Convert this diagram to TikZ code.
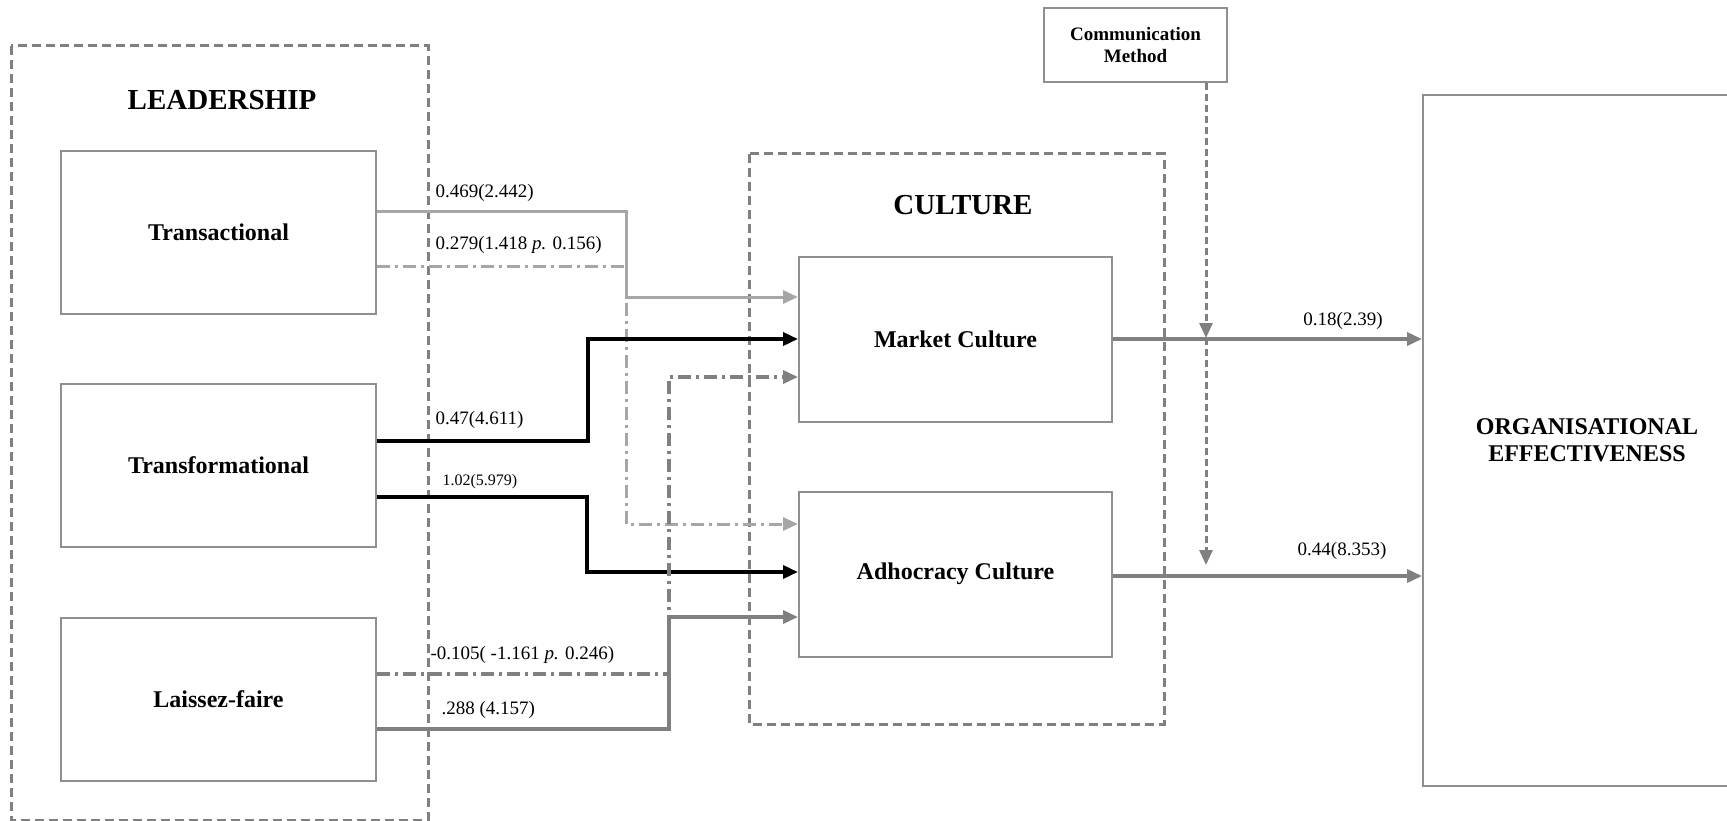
\documentclass[tikz,border=0pt]{standalone}
\usepackage{fontspec}
\setmainfont{Liberation Serif}
\usetikzlibrary{arrows.meta}

\begin{document}
\begin{tikzpicture}[x=1pt,y=-1pt,>={Triangle[length=15pt,width=13pt]},
	box/.style={draw=boxgray,line width=2pt,minimum width=315pt,minimum height=163pt,
		font=\fontsize{24}{27}\selectfont\bfseries},
	frame/.style={draw=dgray,line width=3pt,dash pattern=on 9pt off 5pt},
	title/.style={font=\fontsize{29}{34}\selectfont\bfseries},
	coef/.style={font=\fontsize{19}{22}\selectfont,anchor=west},
	dashdot/.style={dash pattern=on 13pt off 5pt on 3pt off 5pt}]
\definecolor{lgray}{HTML}{A6A6A6}
\definecolor{dgray}{HTML}{808080}
\definecolor{boxgray}{HTML}{8F8F8F}

\useasboundingbox (0,0) rectangle (1727,821);
\clip (0,0) rectangle (1727,821);

% Rahmen
\draw[frame] (11,46) rectangle (428,820);
\draw[frame] (749,154) rectangle (1164,724);
\node[title] (leadT) at (222,100) {LEADERSHIP};
\node[title] (cultT) at (963,205) {CULTURE};

% Kaesten
\node[box] (trans) at (218.5,232.5) {Transactional};
\node[box] (transf) at (218.5,465.5) {Transformational};
\node[box] (laissez) at (218.5,699.5) {Laissez-faire};
\node[box,minimum width=313pt,minimum height=165pt] (market) at (955.5,339.5) {Market Culture};
\node[box,minimum width=313pt,minimum height=165pt] (adhoc) at (955.5,574) {Adhocracy Culture};
\node[box,minimum width=183pt,minimum height=74pt,align=center,
	font=\fontsize{19}{22}\selectfont\bfseries] (comm) at (1135.5,45) {Communication\\Method};
\node[box,minimum width=328pt,minimum height=691pt,align=center] (org) at (1587,440.5)
	{ORGANISATIONAL\\EFFECTIVENESS};

% Pfade
\draw[->,lgray,line width=3pt] (trans.east |- 0,212) -| (626,297) -- (market.west |- 0,297);
\node[coef] (c1) at (432,193) {0.469(2.442)};
\draw[->,lgray,line width=3pt,dashdot] (trans.east |- 0,266) -| (626,524) -- (adhoc.west |- 0,524);
\node[coef] (c2) at (432,245) {0.279(1.418 \textit{p.} 0.156)};

\draw[->,black,line width=3.5pt] (transf.east |- 0,441) -| (588,339) -- (market.west |- 0,339);
\node[coef] (c3) at (432,420) {0.47(4.611)};
\draw[->,black,line width=3.5pt] (transf.east |- 0,497) -| (587,572) -- (adhoc.west |- 0,572);
\node[coef,font=\fontsize{16}{19}\selectfont] (c4) at (439,482) {1.02(5.979)};

\draw[->,dgray,line width=3.5pt,dashdot] (laissez.east |- 0,674) -| (669,377) -- (market.west |- 0,377);
\node[coef] (c5) at (427,655) {-0.105( -1.161 \textit{p.} 0.246)};
\draw[->,dgray,line width=3.5pt] (laissez.east |- 0,729) -| (669,617) -- (adhoc.west |- 0,617);
\node[coef] (c6) at (438,710) {.288 (4.157)};

\draw[->,dgray,line width=3.5pt] (market.east |- 0,339) -- (org.west |- 0,339);
\node[coef,anchor=center] (c7) at (1343,321) {0.18(2.39)};
\draw[->,dgray,line width=3.5pt] (adhoc.east |- 0,576) -- (org.west |- 0,576);
\node[coef,anchor=center] (c8) at (1342,551) {0.44(8.353)};

% Moderator
\coordinate (mA) at (1206,338);
\coordinate (mB) at (1206,565);
\draw[->,dgray,line width=3pt,dash pattern=on 7pt off 4pt] (comm.south -| mA) -- (mA);
\draw[->,dgray,line width=3pt,dash pattern=on 7pt off 4pt] (mA) -- (mB);

\end{tikzpicture}
\end{document}
